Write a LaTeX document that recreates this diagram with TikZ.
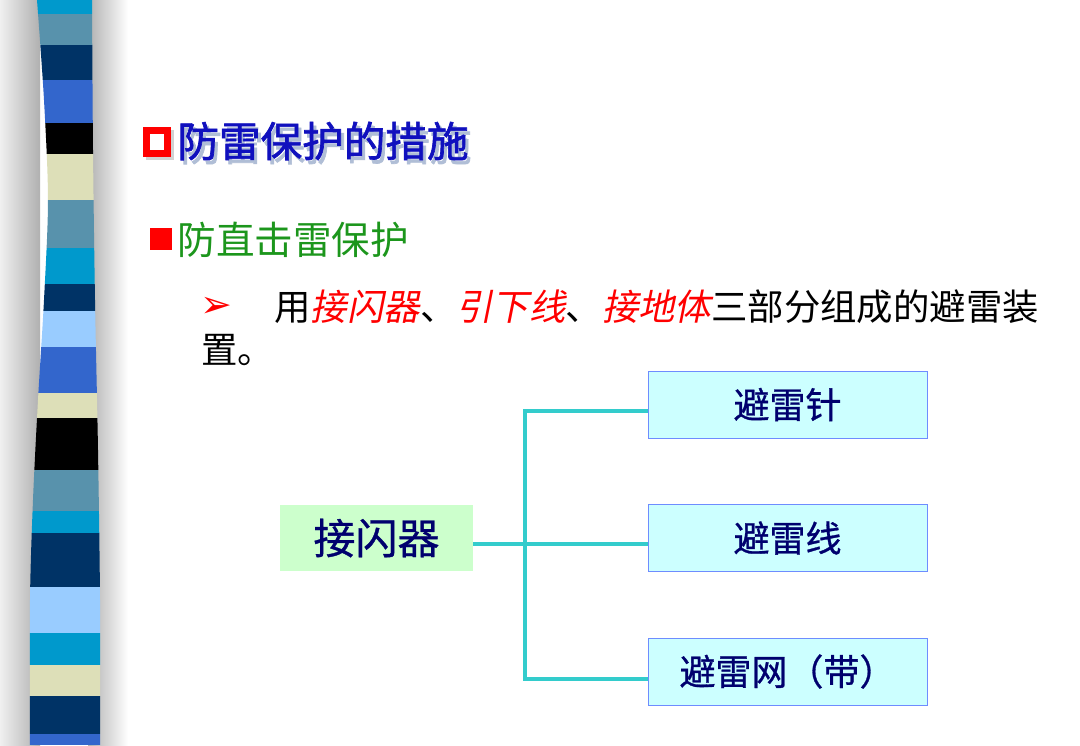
\documentclass[tikz,border=0pt]{standalone}
\usepackage{fontspec}
\setmainfont{Liberation Sans}
\newfontfamily\cjk{Noto Sans CJK SC}
\newfontfamily\cjkheavy[FakeBold=1.6]{Noto Sans CJK SC}
\newfontfamily\cjkbox[FakeBold=0.8]{Noto Sans CJK SC}
\newfontfamily\cjkslant[FakeSlant=0.2]{Noto Sans CJK SC}
\newfontfamily\symfont{DejaVu Sans}
\usetikzlibrary{positioning, calc}
\definecolor{stripCyan}{RGB}{0,153,204}
\definecolor{stripSteel}{RGB}{88,146,172}
\definecolor{stripNavy}{RGB}{0,51,102}
\definecolor{stripRoyal}{RGB}{51,102,204}
\definecolor{stripCream}{RGB}{221,223,184}
\definecolor{stripSky}{RGB}{153,204,255}
\definecolor{titleblue}{RGB}{16,16,190}
\definecolor{titleshade}{RGB}{176,190,214}
\definecolor{subgreen}{RGB}{28,150,28}
\definecolor{boxtext}{RGB}{0,0,110}
\definecolor{leaffill}{RGB}{204,255,255}
\definecolor{leafedge}{RGB}{110,140,255}
\definecolor{rootfill}{RGB}{204,255,204}
\definecolor{linkteal}{RGB}{51,204,204}
\tikzset{
    leafbox/.style={draw=leafedge, thin, fill=leaffill, minimum width=139.5pt, minimum height=33.5pt, inner sep=0pt, text=boxtext, font=\cjkbox\fontsize{18}{20}\selectfont},
    rootbox/.style={fill=rootfill, minimum width=96.5pt, minimum height=33pt, inner sep=0pt, text=boxtext, font=\cjkbox\fontsize{21}{24}\selectfont},
    link/.style={line width=2pt, linkteal},
    bodytext/.style={anchor=west, inner sep=0pt, font=\cjk\fontsize{18.2}{21}\selectfont}
}

\begin{document}
\begin{tikzpicture}[x=0.5pt, y=-0.5pt]
        \useasboundingbox (0,0) rectangle (1080,745);
        \fill[white] (0,0) rectangle (1080,745);

        % Striped band on the left with its shadow
        \shade[left color=gray!12, right color=gray!62] (0,0) rectangle (40,745);
        \shade[left color=gray!62, right color=white] (88,0) rectangle (128,745);
        \begin{scope}
            \clip plot[smooth] coordinates {(37,0) (44,100) (48,200) (44,300) (38,400) (33,500) (30,600) (30,745)}
                -- plot[smooth] coordinates {(100,745) (100,600) (98,450) (95,300) (93,150) (92,0)} -- cycle;
            \foreach \top/\bot/\col in {0/14/stripCyan, 14/45/stripSteel, 45/80/stripNavy, 80/123/stripRoyal,
                123/154/black, 154/200/stripCream, 200/248/stripSteel, 248/284/stripCyan, 284/311/stripNavy,
                311/347/stripSky, 347/393/stripRoyal, 393/418/stripCream, 418/470/black, 470/511/stripSteel,
                511/533/stripCyan, 533/587/stripNavy, 587/633/stripSky, 633/665/stripCyan, 665/696/stripCream,
                696/734/stripNavy, 734/745/stripRoyal}
                \fill[\col] (20,\top) rectangle (110,\bot);
        \end{scope}

        % Headings
        \fill[gray!35] (146,130) rectangle (174,160);
        \fill[red] (143,127) rectangle (171,157);
        \fill[white] (150,134) rectangle (164,150);
        \node[anchor=west, inner sep=0pt, text=titleblue, font=\cjkheavy\fontsize{20.8}{24}\selectfont] (title) at (177,143)
            {\rlap{\hspace{1.5pt}\raisebox{-2pt}{\color{titleshade}防雷保护的措施}}防雷保护的措施};
        \fill[red] (150,228) rectangle (172,250);
        \node[anchor=west, inner sep=0pt, text=subgreen, font=\cjk\fontsize{19.3}{22}\selectfont] (subtitle) at (177,240) {防直击雷保护};

        % Body text
        \node[anchor=west, inner sep=0pt, text=red, font=\symfont\fontsize{19}{21}\selectfont] (mark) at (200,307) {➢};
        \node[bodytext] (line1) at (274,307) {用{\cjkslant\color{red}接闪器}、{\cjkslant\color{red}引下线}、{\cjkslant\color{red}接地体}三部分组成的避雷装};
        \node[bodytext] (line2) at (201,350) {置。};

        % Tree of nodes
        \node [rootbox] (root) at (376.5,538) {接闪器};
        \node [leafbox] (needle) at (787.5,404.5) {避雷针};
        \node [leafbox] (wire) at (787.5,538) {避雷线};
        \node [leafbox] (net) at (787.5,671.5) {避雷网（带）};
        \coordinate (jn) at (525,545);

        \draw [link] ([yshift=-3pt]root.east) -- ([yshift=-3pt]wire.west);
        \draw [link] ([yshift=-3pt]needle.west) -| (jn) |- ([yshift=-3.5pt]net.west);
    \end{tikzpicture}
\end{document}
